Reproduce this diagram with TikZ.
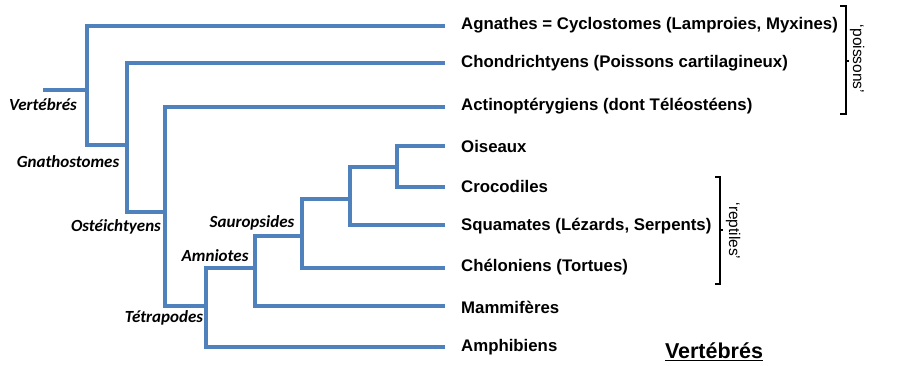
\documentclass[tikz,border=0pt]{standalone}
\usepackage{fontspec}
\setmainfont{Liberation Sans}
\newfontfamily\cladefont{Carlito}
\usetikzlibrary{positioning,calc}
\definecolor{treeBlue}{RGB}{79,129,189}

\begin{document}
\begin{tikzpicture}[
    x=1pt, y=-1pt,
    branch/.style={draw=treeBlue, line width=4pt, line join=miter},
    leafLabel/.style={anchor=west, inner sep=0pt, font=\fontsize{16.8}{18}\selectfont\bfseries},
    cladeLabel/.style={inner sep=0pt, font=\cladefont\fontsize{17}{19}\selectfont\bfseries\itshape},
    bracket/.style={draw=black, line width=1.3pt},
    bracketLabel/.style={rotate=-90, inner sep=0pt, font=\fontsize{15.5}{17}\selectfont}
]
\useasboundingbox (0,0) rectangle (899,366);

% Leaves
\node[leafLabel] (agn) at (461,25) {Agnathes = Cyclostomes (Lamproies, Myxines)};
\node[leafLabel] (cho) at (461,63) {Chondrichtyens (Poissons cartilagineux)};
\node[leafLabel] (act) at (461,106) {Actinoptérygiens (dont Téléostéens)};
\node[leafLabel] (ois) at (461,146) {Oiseaux};
\node[leafLabel] (cro) at (461,186) {Crocodiles};
\node[leafLabel] (squ) at (461,226) {Squamates (Lézards, Serpents)};
\node[leafLabel] (che) at (461,267) {Chéloniens (Tortues)};
\node[leafLabel] (mam) at (461,307) {Mammifères};
\node[leafLabel] (amp) at (461,347) {Amphibiens};

% Leaf ends
\coordinate (eAgn) at (445,26);
\coordinate (eCho) at (445,63);
\coordinate (eAct) at (445,107);
\coordinate (eOis) at (445,146);
\coordinate (eCro) at (445,187);
\coordinate (eSqu) at (445,225);
\coordinate (eChe) at (445,268);
\coordinate (eMam) at (445,306);
\coordinate (eAmp) at (445,347);

% Inner nodes
\coordinate (root) at (43,90);
\coordinate (vert) at (87,90);
\coordinate (gnat) at (127,145);
\coordinate (oste) at (165,212);
\coordinate (tetr) at (206,306);
\coordinate (amni) at (255,268);
\coordinate (saur) at (302,236);
\coordinate (arch) at (350,199);
\coordinate (bird) at (397,167);

% Tree
\draw[branch] (root) -- (vert);
\draw[branch] (eAgn) -| (vert |- gnat) -- (gnat);
\draw[branch] (eCho) -| (gnat |- oste) -- (oste);
\draw[branch] (eAct) -| (oste |- tetr) -- (tetr);
\draw[branch] (eAmp) -| (tetr |- amni) -- (amni);
\draw[branch] (eMam) -| (amni |- saur) -- (saur);
\draw[branch] (eChe) -| (saur |- arch) -- (arch);
\draw[branch] (eSqu) -| (arch |- bird) -- (bird);
\draw[branch] (eOis) -| (bird |- eCro) -- (eCro);

% Clade names
\node[cladeLabel] (lVert) at (43,105) {Vertébrés};
\node[cladeLabel] (lGnat) at (68,162) {Gnathostomes};
\node[cladeLabel] (lOste) at (116,227) {Ostéichtyens};
\node[cladeLabel] (lSaur) at (252,223) {Sauropsides};
\node[cladeLabel] (lAmni) at (215,256) {Amniotes};
\node[cladeLabel] (lTetr) at (164,318) {Tétrapodes};

% Brackets
\draw[bracket] (840,6) -- (846,6) -- (846,114) -- (840,114);
\draw[bracket] (846,61) -- (849,61);
\node[bracketLabel] (poi) at (857,59) {‘poissons’};

\draw[bracket] (715,177) -- (720,177) -- (720,284) -- (715,284);
\draw[bracket] (720,230) -- (723,230);
\node[bracketLabel] (rep) at (733,231) {‘reptiles’};

% Title
\node[inner sep=0pt, font=\fontsize{21.5}{24}\selectfont\bfseries] (title) at (714,352) {\underline{Vertébrés}};

\end{tikzpicture}
\end{document}
